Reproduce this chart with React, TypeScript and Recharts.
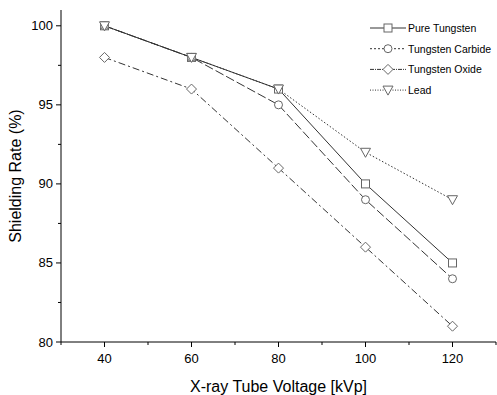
import React from "react";
import { LineChart, Line, XAxis, YAxis } from "recharts";

const voltages = [40, 60, 80, 100, 120];
const pureTungsten = [100, 98, 96, 90, 85];
const tungstenCarbide = [100, 98, 95, 89, 84];
const tungstenOxide = [98, 96, 91, 86, 81];
const lead = [100, 98, 96, 92, 89];

const xTicks = [30, 40, 50, 60, 70, 80, 90, 100, 110, 120, 130];
const yTicks = [80, 82.5, 85, 87.5, 90, 92.5, 95, 97.5, 100];

const data = voltages.map((v, i) => ({
  kvp: v,
  pure: pureTungsten[i],
  carbide: tungstenCarbide[i],
  oxide: tungstenOxide[i],
  lead: lead[i],
}));

const FONT = "Arial, 'Liberation Sans', sans-serif";
const LINE = "#333";
const MARK = "#666";

const Marker = ({ kind, cx, cy }: { kind: string; cx: number; cy: number }) => {
  const s = 4;
  if (kind === "square")
    return <rect x={cx - s} y={cy - s} width={2 * s} height={2 * s} fill="#fff" stroke={MARK} />;
  if (kind === "circle") return <circle cx={cx} cy={cy} r={s} fill="#fff" stroke={MARK} />;
  if (kind === "diamond")
    return (
      <polygon
        points={`${cx},${cy - 5} ${cx + 5},${cy} ${cx},${cy + 5} ${cx - 5},${cy}`}
        fill="#fff"
        stroke={MARK}
      />
    );
  return (
    <polygon
      points={`${cx - 5},${cy - 4} ${cx + 5},${cy - 4} ${cx},${cy + 5}`}
      fill="#fff"
      stroke={MARK}
    />
  );
};

const series = [
  { key: "pure", name: "Pure Tungsten", dash: "", marker: "square" },
  { key: "carbide", name: "Tungsten Carbide", dash: "9 3", marker: "circle" },
  { key: "oxide", name: "Tungsten Oxide", dash: "7 3 2 3", marker: "diamond" },
  { key: "lead", name: "Lead", dash: "1.5 2", marker: "triangle" },
];

const legendDash = ["", "2 2", "4 1 1 1", "1 1.5"];

const YTick = (props: any) => {
  const { x, y, payload } = props;
  const major = payload.value % 5 === 0;
  return (
    <g>
      <line x1={x} x2={x - (major ? 5 : 3)} y1={y} y2={y} stroke="#000" />
      {major && (
        <text x={x - 8} y={y + 4.5} textAnchor="end" fontSize={13} fontFamily={FONT} fill="#000">
          {payload.value}
        </text>
      )}
    </g>
  );
};

const XTick = (props: any) => {
  const { x, y, payload } = props;
  const major = payload.value % 20 === 0 && payload.value >= 40 && payload.value <= 120;
  return (
    <g>
      <line x1={x} x2={x} y1={y} y2={y + (payload.value % 20 === 0 ? 5 : 3)} stroke="#000" />
      {major && (
        <text x={x} y={y + 21} textAnchor="middle" fontSize={13} fontFamily={FONT} fill="#000">
          {payload.value}
        </text>
      )}
    </g>
  );
};

const LegendBox = () => (
  <svg width={130} height={90} style={{ position: "absolute", left: 367, top: 18 }}>
    {series.map((s, i) => {
      const y = 10 + i * 20.7;
      return (
        <g key={s.key}>
          <line x1={3} x2={39} y1={y} y2={y} stroke={LINE} strokeDasharray={legendDash[i]} />
          <Marker kind={s.marker} cx={21} cy={y} />
          <text x={41} y={y + 4} fontSize={10.5} fontFamily={FONT} fill="#000">
            {s.name}
          </text>
        </g>
      );
    })}
  </svg>
);

export default function App() {
  return (
    <div style={{ position: "absolute", left: 0, top: 0, width: 497, height: 395, background: "#fff" }}>
      <LineChart width={497} height={395} data={data} margin={{ top: 10, right: 1, bottom: 0, left: 0 }}>
        <XAxis
          dataKey="kvp"
          type="number"
          domain={[30, 130]}
          ticks={xTicks}
          interval={0}
          tick={<XTick />}
          tickLine={false}
          tickSize={0}
          tickMargin={0}
          stroke="#000"
          height={53}
          label={{
            value: "X-ray Tube Voltage [kVp]",
            position: "insideBottom",
            offset: 3,
            fontSize: 16,
            fontFamily: FONT,
            fill: "#000",
          }}
        />
        <YAxis
          type="number"
          domain={[80, 101]}
          ticks={yTicks}
          interval={0}
          allowDataOverflow
          tick={<YTick />}
          tickLine={false}
          tickSize={0}
          tickMargin={0}
          stroke="#000"
          width={61}
          label={{
            value: "Shielding Rate (%)",
            angle: -90,
            position: "insideLeft",
            offset: 15,
            style: { textAnchor: "middle" },
            fontSize: 16,
            fontFamily: FONT,
            fill: "#000",
          }}
        />
        {series.map((s) => (
          <Line
            key={s.key}
            dataKey={s.key}
            name={s.name}
            stroke={LINE}
            strokeWidth={1}
            strokeDasharray={s.dash || undefined}
            isAnimationActive={false}
            dot={(p: any) => <Marker key={`${s.key}-${p.index}`} kind={s.marker} cx={p.cx} cy={p.cy} />}
            activeDot={false}
          />
        ))}
      </LineChart>
      <LegendBox />
    </div>
  );
}
